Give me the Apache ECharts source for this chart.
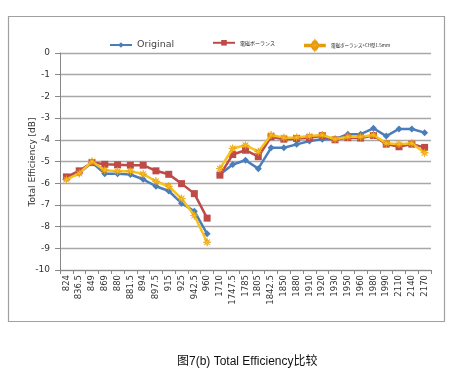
<!DOCTYPE html>
<html><head><meta charset="utf-8">
<script src="https://cdn.jsdelivr.net/npm/echarts@6/dist/echarts.min.js"></script>
<style>html,body{margin:0;padding:0;background:#fff}#c{width:457px;height:388px}</style>
</head><body><div id="c"></div>
<script>
const categories = ['824','836.5','849','869','880','881.5','894','897.5','915','925','942.5','960','1710','1747.5','1785','1805','1842.5','1850','1880','1910','1920','1930','1950','1960','1980','1990','2110','2140','2170'];
const seriesNames = ['Original', '電磁ボーランス', '電磁ボーランス+CH型1.5mm'];
const original = [-5.77,-5.53,-5.05,-5.56,-5.56,-5.6,-5.82,-6.14,-6.36,-6.92,-7.29,-8.33,-5.6,-5.14,-4.94,-5.33,-4.37,-4.37,-4.21,-4.06,-3.97,-3.97,-3.74,-3.74,-3.47,-3.83,-3.5,-3.5,-3.67];
const balance = [-5.71,-5.43,-5.05,-5.13,-5.15,-5.17,-5.17,-5.43,-5.59,-6.02,-6.48,-7.61,-5.63,-4.68,-4.48,-4.78,-3.86,-3.97,-3.94,-3.91,-3.81,-4.0,-3.9,-3.92,-3.8,-4.2,-4.32,-4.2,-4.35];
const balanceCH = [-5.83,-5.55,-5.0,-5.4,-5.45,-5.45,-5.58,-5.91,-6.14,-6.71,-7.49,-8.72,-5.33,-4.4,-4.25,-4.55,-3.78,-3.9,-3.89,-3.83,-3.78,-3.97,-3.86,-3.86,-3.78,-4.16,-4.2,-4.16,-4.6];
const yTicks = [0,-1,-2,-3,-4,-5,-6,-7,-8,-9,-10];
const yAxisTitle = 'Total Efficiency [dB]';
const captionText = '图7(b) Total Efficiency比较';
const bandSplit = 12; // 960 -> 1710 gap

const colors = ['#4A7EBB', '#BE4B48', '#F8C21A'];
const starPath = 'path://M0,-10L1.2,-3L7,-7L3,-1.2L10,0L3,1.2L7,7L1.2,3L0,10L-1.2,3L-7,7L-3,1.2L-10,0L-3,-1.2L-7,-7L-1.2,-3Z';
const symbols = ['diamond', 'rect', starPath];
const symSizes = [7, 7, 8];
const datas = [original, balance, balanceCH];
const starLegendIcon = 'path://M0,4.3L7.2,4.3L9,1.5L9.6,3.6L11,0L12.4,3.6L13,1.5L14.8,4.3L22,4.3L22,5.7L14.8,5.7L13,8.5L12.4,6.4L11,10L9.6,6.4L9,8.5L7.2,5.7L0,5.7Z';

function part(arr, lo) {
  return arr.map((v, i) => (lo ? i < bandSplit : i >= bandSplit) ? v : null);
}
const series = [];
datas.forEach((d, k) => {
  [true, false].forEach(lo => {
    series.push({
      name: seriesNames[k], type: 'line', data: part(d, lo),
      connectNulls: false, symbol: symbols[k], symbolSize: symSizes[k],
      lineStyle: {color: colors[k], width: 2.5},
      itemStyle: {color: colors[k], borderColor: k === 2 ? '#E89A10' : colors[k], borderWidth: k === 2 ? 0.6 : 0},
      z: 3 + k, animation: false
    });
  });
});

const chart = echarts.init(document.getElementById('c'), null, {renderer: 'canvas'});
const legendBase = {top: 35, itemWidth: 22, itemHeight: 7, itemGap: 3, selectedMode: false};
chart.setOption({
  backgroundColor: '#fff',
  animation: false,
  graphic: [
    {type: 'rect', shape: {x: 8.5, y: 16.5, width: 436, height: 305}, style: {fill: 'none', stroke: '#a0a0a0', lineWidth: 1.2}, silent: true},
    {type: 'text', left: 177, top: 356, style: {text: captionText, fontSize: 12, fill: '#111', fontFamily: 'Liberation Sans, Noto Sans CJK SC, sans-serif'}},
    {type: 'text', x: 33, y: 162, rotation: Math.PI / 2, style: {text: yAxisTitle, fontSize: 9, fill: '#333', fontFamily: 'DejaVu Sans', align: 'center', verticalAlign: 'middle'}}
  ],
  legend: [
    Object.assign({}, legendBase, {left: 104, data: [seriesNames[0]], textStyle: {fontSize: 9.5, color: '#444', fontFamily: 'DejaVu Sans'}}),
    Object.assign({}, legendBase, {left: 207, data: [seriesNames[1]], textStyle: {fontSize: 5, color: '#222', fontFamily: 'Noto Sans CJK JP', padding: [0,0,6,0]}}),
    Object.assign({}, legendBase, {left: 299, itemHeight: 9, data: [{name: seriesNames[2], icon: starLegendIcon}], textStyle: {fontSize: 4.5, color: '#222', fontFamily: 'Noto Sans CJK JP', padding: [0,0,8,0]}})
  ],
  grid: {left: 60, right: 26, top: 53, bottom: 118},
  xAxis: {
    type: 'category', data: categories, boundaryGap: true, position: 'bottom',
    axisLine: {onZero: false, lineStyle: {color: '#888', width: 1}},
    axisTick: {show: true, alignWithLabel: false, length: 4, lineStyle: {color: '#888'}},
    axisLabel: {rotate: 90, fontSize: 8.5, color: '#333', margin: 5, interval: 0, fontFamily: 'DejaVu Sans'}
  },
  yAxis: {
    type: 'value', min: -10, max: 0, interval: 1,
    axisLine: {show: true, lineStyle: {color: '#888'}},
    axisTick: {show: true, length: 5, lineStyle: {color: '#888'}},
    axisLabel: {fontSize: 9, color: '#333', margin: 10, fontFamily: 'DejaVu Sans',
      formatter: v => yTicks.includes(v) ? String(v) : ''},
    splitLine: {show: true, lineStyle: {color: '#a8a8a8', width: 1.3}}
  },
  series: series
});
</script></body></html>
